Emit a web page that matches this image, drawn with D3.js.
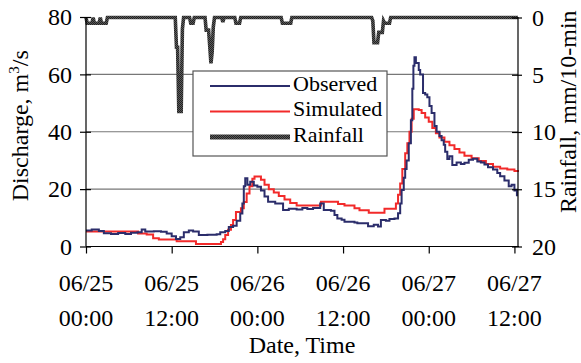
<!DOCTYPE html>
<html>
<head>
<meta charset="utf-8">
<script src="https://cdn.jsdelivr.net/npm/d3@7"></script>
<style>
	body { margin: 0; background: #fff; }
	svg { display: block; }
	svg text { font-family: "Liberation Serif", "Times New Roman", "DejaVu Serif", serif !important; }
</style>
</head>
<body>
<div id="chart"></div>
<script>

// observed discharge (hour from 06/25 00:00, m3/s)
let obsHour = [0, 0.8, 1.8, 2.5, 3.5, 4.5, 5.5, 6.3, 7.2, 7.8, 8.3, 9.5, 10.5, 11.3, 12.0, 12.6, 13.2, 13.7, 14.4, 15.0, 15.8, 17.0, 18.3, 18.8, 19.5, 20.0, 20.6, 21.1, 21.6, 21.9, 22.1, 22.3, 22.6, 23.0, 23.5, 24.0, 24.5, 25.0, 25.5, 26.5, 27.6, 28.4, 29.5, 30.3, 31.0, 31.8, 32.8, 33.3, 34.3, 34.8, 35.2, 35.8, 36.2, 37.6, 38.0, 39.5, 40.3, 40.9, 41.3, 42.0, 42.5, 43.2, 43.7, 44.0, 44.2, 44.5, 44.7, 44.9, 45.2, 45.5, 45.7, 45.85, 46.0, 46.2, 46.6, 46.8, 47.2, 47.5, 47.8, 48.1, 48.4, 48.8, 49.1, 49.5, 49.8, 50.1, 50.3, 50.6, 50.9, 51.3, 51.9, 52.5, 53.0, 53.6, 54.2, 54.8, 55.3, 55.8, 56.3, 57.0, 57.6, 58.0, 58.6, 59.2, 59.6, 60.0, 60.35]
let obsQ = [5.6, 5.9, 5.4, 4.6, 4.4, 4.7, 4.4, 4.8, 5.0, 5.9, 5.2, 5.3, 5.1, 4.5, 3.6, 2.6, 3.2, 5.0, 5.6, 5.2, 4.0, 4.1, 4.3, 5.0, 5.4, 6.8, 7.2, 9.0, 11.5, 15, 21, 23.8, 21.5, 22.6, 21.3, 20.8, 19.5, 17.4, 15.6, 15, 12.7, 13.2, 12.9, 13.4, 13.1, 13.4, 15, 12.7, 12.5, 11, 9.8, 9.3, 8.6, 8.4, 8.1, 7.1, 7.6, 7.0, 9.2, 9.0, 9.6, 9.8, 11.6, 15, 19.7, 24, 27, 30, 36, 44, 55, 63, 66, 64, 61.5, 60, 53.5, 53, 52, 49, 46.5, 42, 40, 38.5, 37, 35.5, 33, 30.5, 31.5, 28.4, 29.3, 28.8, 29.2, 30.2, 30.6, 29.6, 29.3, 28.6, 27.6, 26.8, 25.6, 24.5, 23, 21, 21.5, 19.5, 17.5, 15.3]

// simulated discharge
let simHour = [0, 7.3, 8.5, 9.4, 10.2, 12.7, 15.4, 18.9, 19.2, 19.5, 19.9, 20.3, 20.6, 21.0, 21.7, 22.1, 22.5, 22.9, 23.3, 23.6, 24.5, 25.0, 25.6, 26.3, 27.0, 27.8, 28.6, 29.5, 32.9, 35.3, 36.2, 37.6, 38.3, 39.6, 41.8, 43.4, 43.7, 44.0, 44.3, 44.7, 45.0, 45.3, 45.6, 45.9, 46.6, 47.0, 47.5, 48.0, 48.5, 49.0, 49.5, 50.2, 50.9, 51.6, 52.3, 53.0, 54.0, 55.0, 56.0, 57.0, 58.0, 59.0, 60.0, 60.5]
let simQ = [5.2, 4.5, 4.2, 2.9, 2.4, 1.8, 0.9, 1.6, 2.5, 4.0, 5.8, 7.5, 9.2, 12.0, 13.3, 15.5, 18.5, 21.0, 23.6, 24.4, 23.3, 21.5, 20.0, 18.8, 17.6, 16.4, 15.2, 14.3, 15.6, 14.8, 14.3, 13.3, 12.6, 11.8, 13.2, 15.0, 18.0, 22.0, 27.0, 32.5, 36.0, 40.0, 44.5, 47.8, 47.6, 46.5, 45.0, 43.5, 41.3, 39.5, 38.0, 36.5, 35.3, 34.0, 32.8, 31.6, 30.8, 29.8, 28.8, 27.8, 27.2, 26.8, 26.3, 26.0]

// rainfall, mm per 10 min (zeros mark the dry spells around each event)
let rainHour = [0, 0.17, 0.83, 1.0, 1.17, 1.83, 2.0, 2.17, 2.83, 3.0, 12.5, 12.67, 12.83, 13.0, 13.33, 13.5, 13.67, 14.5, 14.67, 15.0, 15.17, 16.67, 16.83, 17.17, 17.33, 17.5, 17.67, 17.83, 18.0, 19.0, 19.17, 19.33, 20.83, 21.0, 21.5, 21.67, 27.33, 27.5, 28.67, 28.83, 40.0, 40.17, 40.33, 40.83, 41.0, 41.5, 41.67, 41.83, 42.5, 42.67, 60.5]
let rainMm = [0, 0.5, 0.5, 0, 0.5, 0.5, 0, 0.5, 0.5, 0, 0, 2.6, 2.6, 8.2, 8.2, 1.0, 0, 0, 0.5, 0.5, 0, 0, 1.1, 1.1, 2.5, 4.0, 3.0, 0.8, 0, 0, 0.4, 0, 0, 0.5, 0.5, 0, 0, 0.5, 0.5, 0, 0, 0.3, 2.2, 2.2, 1.3, 1.3, 0.3, 0.5, 0.5, 0, 0]

// axis ticks
let qTicks = [0, 20, 40, 60, 80]
let rainTicks = [0, 5, 10, 15, 20]
let timeTicks = [0, 12, 24, 36, 48, 60]
let tickDates = ["06/25", "06/25", "06/26", "06/26", "06/27", "06/27"]
let tickTimes = ["00:00", "12:00", "00:00", "12:00", "00:00", "12:00"]

let legendNames = ["Observed", "Simulated", "Rainfall"]

let w = 581, h = 363
let plotLeft = 86, plotRight = 518, plotTop = 17, plotBottom = 246.5

let obsColor = "#2b2d6b"
let simColor = "#f22a2a"
let fontSize = 24
let serif = '"Liberation Serif", "Times New Roman", "DejaVu Serif", serif'

let x = d3.scaleLinear().domain([0, 60.5]).range([plotLeft, plotRight])
let yQ = d3.scaleLinear().domain([0, 80]).range([plotBottom, plotTop])
let yR = d3.scaleLinear().domain([0, 20]).range([plotTop + 0.5, plotBottom])

let obsData = obsHour.map((t, i) => ({t: t, v: obsQ[i]}))
let simData = simHour.map((t, i) => ({t: t, v: simQ[i]}))
let rainData = rainHour.map((t, i) => ({t: t, v: rainMm[i]}))

let svg = d3.select('#chart').append('svg')
	.attr('width', w)
	.attr('height', h)
	.attr('font-family', serif)

//dithered grey like the printed rainfall series
let defs = svg.append('defs')
let pat = defs.append('pattern')
	.attr('id', 'dither')
	.attr('width', 2).attr('height', 2)
	.attr('patternUnits', 'userSpaceOnUse')
pat.append('rect').attr('width', 2).attr('height', 2).attr('fill', '#5a5a5a')
pat.append('rect').attr('width', 1).attr('height', 1).attr('fill', '#222')
pat.append('rect').attr('x', 1).attr('y', 1).attr('width', 1).attr('height', 1).attr('fill', '#222')

//gridlines
svg.append('g')
	.selectAll('line')
	.data(qTicks.filter(d => d > 0 && d < 80))
	.join('line')
	.attr('x1', plotLeft).attr('x2', plotRight)
	.attr('y1', d => yQ(d)).attr('y2', d => yQ(d))
	.attr('stroke', '#777')
	.attr('stroke-width', 1.2)

//rainfall hanging from the top
let rainLine = d3.line()
	.x(d => x(d.t))
	.y(d => yR(d.v))

svg.append('path')
	.datum(rainData)
	.attr('d', rainLine)
	.attr('fill', 'none')
	.attr('stroke', 'url(#dither)')
	.attr('stroke-width', 3.6)
	.attr('stroke-linejoin', 'miter')

//discharge lines
let qLine = d3.line()
	.x(d => x(d.t))
	.y(d => yQ(d.v))
	.curve(d3.curveStepAfter)

svg.append('path')
	.datum(simData)
	.attr('d', qLine)
	.attr('fill', 'none')
	.attr('stroke', simColor)
	.attr('stroke-width', 2)

svg.append('path')
	.datum(obsData)
	.attr('d', qLine)
	.attr('fill', 'none')
	.attr('stroke', obsColor)
	.attr('stroke-width', 2)

/*
	axes
*/
let leftAxis = d3.axisLeft(yQ).tickValues(qTicks).tickSize(6).tickPadding(8)
let gLeft = svg.append('g').attr('transform', `translate(${plotLeft},0)`).call(leftAxis)
gLeft.selectAll('.tick line').attr('x2', -6).attr('x1', 5)

let rightAxis = d3.axisRight(yR).tickValues(rainTicks).tickSize(4).tickPadding(10)
let gRight = svg.append('g').attr('transform', `translate(${plotRight},0)`).call(rightAxis)
gRight.selectAll('.tick line').attr('x1', -6).attr('x2', 4)

let bottomAxis = d3.axisBottom(x).tickValues(timeTicks).tickSize(7).tickFormat('')
let gBottom = svg.append('g').attr('transform', `translate(0,${plotBottom})`).call(bottomAxis)

;[gLeft, gRight, gBottom].forEach(g => {
	g.attr('font-family', serif).attr('font-size', fontSize)
	g.select('.domain').attr('stroke', '#000').attr('stroke-width', 1.2)
	g.selectAll('.tick line').attr('stroke', '#000').attr('stroke-width', 1.2)
	g.selectAll('.tick text').attr('fill', '#000')
})
gLeft.select('.domain').attr('d', `M0,${plotTop}V${plotBottom}`)
gRight.select('.domain').attr('d', `M0,${plotTop}V${plotBottom}`)
gBottom.select('.domain').attr('d', `M${plotLeft},0H${plotRight + 1}`)

//two line date/time labels
let tickLabels = svg.append('g')
	.attr('font-size', fontSize)
	.attr('text-anchor', 'middle')
tickLabels.selectAll('.dateLabel')
	.data(timeTicks)
	.join('text')
	.attr('class', 'dateLabel')
	.attr('x', d => x(d))
	.attr('y', 291)
	.text((d, i) => tickDates[i])
tickLabels.selectAll('.timeLabel')
	.data(timeTicks)
	.join('text')
	.attr('class', 'timeLabel')
	.attr('x', d => x(d))
	.attr('y', 326)
	.text((d, i) => tickTimes[i])

//axis titles
svg.append('text')
	.attr('x', (plotLeft + plotRight) / 2)
	.attr('y', 353)
	.attr('text-anchor', 'middle')
	.attr('font-size', fontSize)
	.text('Date, Time')

let qTitle = svg.append('text')
	.attr('transform', `translate(28,${(plotTop + plotBottom) / 2 - 6}) rotate(-90)`)
	.attr('text-anchor', 'middle')
	.attr('font-size', fontSize)
qTitle.append('tspan').text('Discharge, m')
qTitle.append('tspan').attr('font-size', 15).attr('dy', -9).text('3')
qTitle.append('tspan').attr('dy', 9).text('/s')

svg.append('text')
	.attr('transform', `translate(576,${(plotTop + plotBottom) / 2 - 20}) rotate(-90)`)
	.attr('text-anchor', 'middle')
	.attr('font-size', fontSize)
	.text('Rainfall, mm/10-min')

/*
	legend
*/
let legend = svg.append('g').attr('transform', 'translate(193,71)')
legend.append('rect')
	.attr('width', 194)
	.attr('height', 85)
	.attr('fill', '#fff')
	.attr('stroke', '#555')
	.attr('stroke-width', 1.2)

let legendStyles = [
	{stroke: obsColor, width: 2},
	{stroke: simColor, width: 2},
	{stroke: 'url(#dither)', width: 5}
]

let legendItems = legend.selectAll('.legendItem')
	.data(legendNames)
	.join('g')
	.attr('class', 'legendItem')
	.attr('transform', (d, i) => `translate(0,${15 + i * 25.5})`)

legendItems.append('line')
	.attr('x1', 17).attr('x2', 97)
	.attr('stroke', (d, i) => legendStyles[i].stroke)
	.attr('stroke-width', (d, i) => legendStyles[i].width)

legendItems.append('text')
	.attr('x', 100)
	.attr('y', 4.5)
	.attr('font-size', 22)
	.text(d => d)

</script>
</body>
</html>
